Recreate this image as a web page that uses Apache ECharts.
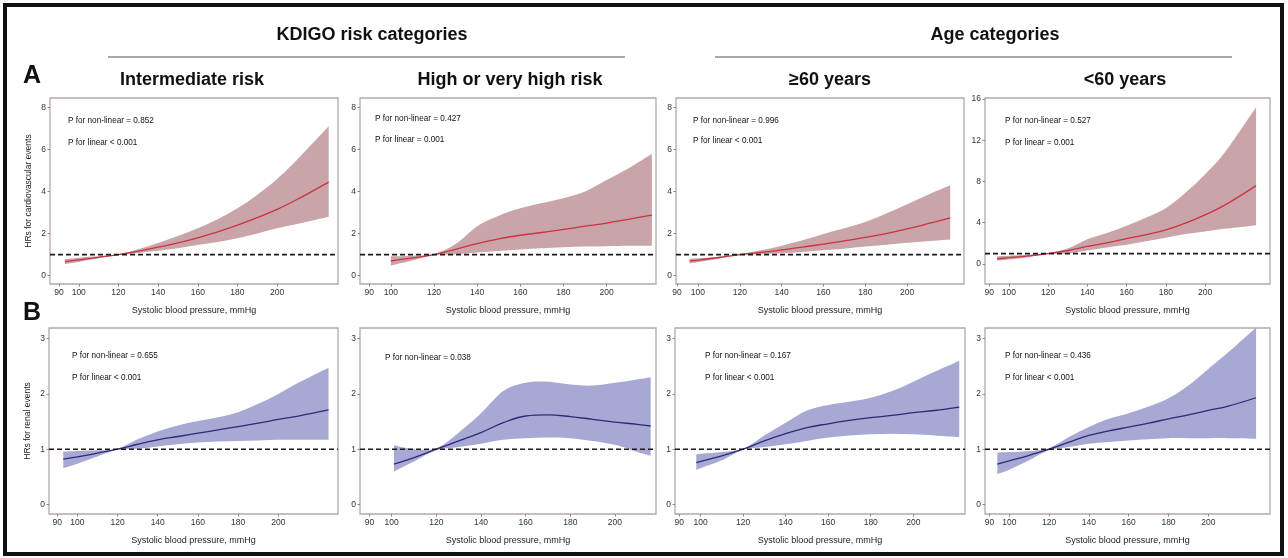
<!DOCTYPE html>
<html>
<head>
<meta charset="utf-8">
<script src="https://cdn.jsdelivr.net/npm/echarts@6.0.0/dist/echarts.min.js"></script>
<style>
html,body{margin:0;padding:0;background:#fff;}
#chart{width:1288px;height:558px;}
</style>
</head>
<body>
<div id="chart"></div>
<script>
// ---------------- DATA ----------------
const groupTitles = ['KDIGO risk categories', 'Age categories'];
const panelTitles = ['Intermediate risk', 'High or very high risk', '\u226560 years', '<60 years'];
const rowLetters = ['A', 'B'];
const yAxisTitles = ['HRs for cardiovascular events', 'HRs for renal events'];
const xAxisTitle = 'Systolic blood pressure, mmHg';
const sbpTicks = [90, 100, 120, 140, 160, 180, 200];
const hrTicksA = [0, 2, 4, 6, 8];
const hrTicksA4 = [0, 4, 8, 12, 16];
const hrTicksB = [0, 1, 2, 3];
const refHR = 1;

// Row A: cardiovascular events
const a1Sbp = [93, 100, 110, 120, 130, 140, 150, 160, 170, 180, 190, 200, 210, 226];
const a1Hr  = [0.66, 0.75, 0.87, 1.0, 1.16, 1.35, 1.56, 1.8, 2.08, 2.4, 2.76, 3.15, 3.62, 4.45];
const a1Lo  = [0.55, 0.65, 0.82, 0.98, 1.08, 1.18, 1.3, 1.45, 1.6, 1.78, 2.0, 2.25, 2.45, 2.8];
const a1Hi  = [0.78, 0.85, 0.93, 1.02, 1.25, 1.55, 1.88, 2.25, 2.68, 3.2, 3.85, 4.6, 5.5, 7.1];

const a2Sbp = [100, 110, 120, 130, 140, 150, 160, 170, 180, 190, 200, 210, 221];
const a2Hr  = [0.7, 0.84, 1.0, 1.25, 1.52, 1.75, 1.92, 2.05, 2.2, 2.35, 2.5, 2.68, 2.88];
const a2Lo  = [0.48, 0.72, 0.98, 1.02, 1.1, 1.17, 1.24, 1.3, 1.35, 1.38, 1.4, 1.42, 1.42];
const a2Hi  = [0.92, 0.95, 1.02, 1.5, 2.35, 2.85, 3.2, 3.45, 3.68, 4.0, 4.55, 5.1, 5.8];

const a3Sbp = [96, 100, 110, 120, 130, 140, 150, 160, 170, 180, 190, 200, 210, 220.6];
const a3Hr  = [0.7, 0.74, 0.86, 1.0, 1.1, 1.22, 1.35, 1.5, 1.65, 1.82, 2.0, 2.22, 2.47, 2.75];
const a3Lo  = [0.58, 0.64, 0.8, 0.98, 1.02, 1.06, 1.12, 1.2, 1.28, 1.38, 1.47, 1.56, 1.64, 1.72];
const a3Hi  = [0.8, 0.82, 0.9, 1.02, 1.2, 1.42, 1.68, 1.98, 2.25, 2.55, 2.95, 3.4, 3.85, 4.3];

const a4Sbp = [94, 100, 110, 120, 130, 140, 150, 160, 170, 180, 190, 200, 210, 226];
const a4Hr  = [0.5, 0.6, 0.78, 1.0, 1.3, 1.7, 2.05, 2.45, 2.85, 3.3, 3.95, 4.75, 5.7, 7.6];
const a4Lo  = [0.32, 0.42, 0.65, 0.95, 1.0, 1.3, 1.6, 1.85, 2.2, 2.55, 2.9, 3.15, 3.4, 3.75];
const a4Hi  = [0.75, 0.8, 0.9, 1.05, 1.5, 2.4, 3.0, 3.7, 4.5, 5.4, 6.9, 8.7, 10.8, 15.2];

// Row B: renal events
const b1Sbp = [93, 100, 110, 120, 130, 140, 150, 160, 170, 180, 190, 200, 210, 225];
const b1Hr  = [0.82, 0.86, 0.93, 1.0, 1.09, 1.17, 1.23, 1.29, 1.35, 1.41, 1.47, 1.54, 1.6, 1.71];
const b1Lo  = [0.66, 0.74, 0.87, 0.99, 1.01, 1.05, 1.09, 1.12, 1.14, 1.15, 1.16, 1.17, 1.17, 1.17];
const b1Hi  = [0.96, 0.97, 0.98, 1.01, 1.18, 1.32, 1.43, 1.51, 1.58, 1.67, 1.82, 2.0, 2.2, 2.47];

const b2Sbp = [101, 110, 120, 130, 140, 150, 160, 170, 180, 190, 200, 210, 216];
const b2Hr  = [0.73, 0.85, 1.0, 1.15, 1.3, 1.48, 1.6, 1.62, 1.59, 1.54, 1.49, 1.45, 1.42];
const b2Lo  = [0.6, 0.78, 0.98, 1.04, 1.1, 1.17, 1.2, 1.21, 1.2, 1.15, 1.08, 0.95, 0.88];
const b2Hi  = [1.07, 1.0, 1.02, 1.3, 1.65, 2.05, 2.2, 2.22, 2.17, 2.15, 2.2, 2.26, 2.3];

const b3Sbp = [98, 110, 120, 130, 140, 150, 160, 170, 180, 190, 200, 210, 221.6];
const b3Hr  = [0.76, 0.88, 1.0, 1.15, 1.28, 1.39, 1.46, 1.52, 1.57, 1.61, 1.66, 1.7, 1.76];
const b3Lo  = [0.63, 0.8, 0.99, 1.04, 1.09, 1.15, 1.21, 1.25, 1.27, 1.28, 1.27, 1.25, 1.22];
const b3Hi  = [0.91, 0.95, 1.01, 1.25, 1.48, 1.7, 1.8, 1.86, 1.93, 2.05, 2.22, 2.4, 2.6];

const b4Sbp = [94, 100, 110, 120, 130, 140, 150, 160, 170, 180, 190, 200, 210, 224];
const b4Hr  = [0.73, 0.79, 0.89, 1.0, 1.13, 1.25, 1.33, 1.4, 1.47, 1.55, 1.62, 1.7, 1.78, 1.93];
const b4Lo  = [0.55, 0.63, 0.8, 0.98, 1.04, 1.1, 1.13, 1.16, 1.18, 1.2, 1.2, 1.2, 1.2, 1.19];
const b4Hi  = [0.94, 0.95, 0.97, 1.02, 1.22, 1.4, 1.55, 1.65, 1.77, 1.92, 2.15, 2.45, 2.75, 3.2];

const pTexts = [
  ['P for non-linear = 0.852', 'P for linear < 0.001'],
  ['P for non-linear = 0.427', 'P for linear = 0.001'],
  ['P for non-linear = 0.996', 'P for linear < 0.001'],
  ['P for non-linear = 0.527', 'P for linear = 0.001'],
  ['P for non-linear = 0.655', 'P for linear < 0.001'],
  ['P for non-linear = 0.038'],
  ['P for non-linear = 0.167', 'P for linear < 0.001'],
  ['P for non-linear = 0.436', 'P for linear < 0.001']
];

// ---------------- LAYOUT / STYLE ----------------
const FONT = '"Liberation Sans", Arial, "DejaVu Sans", sans-serif';
const panels = [
  {sbp:a1Sbp, hr:a1Hr, lo:a1Lo, hi:a1Hi, row:0, left:50,  width:288, xr:[85.5,230.7], yr:[-0.4,8.45], yt:hrTicksA,  tx:18, ty:[25,47]},
  {sbp:a2Sbp, hr:a2Hr, lo:a2Lo, hi:a2Hi, row:0, left:360, width:296, xr:[85.7,222.9], yr:[-0.4,8.45], yt:hrTicksA,  tx:15, ty:[23,44]},
  {sbp:a3Sbp, hr:a3Hr, lo:a3Lo, hi:a3Hi, row:0, left:676, width:288, xr:[89.5,227.2], yr:[-0.4,8.45], yt:hrTicksA,  tx:17, ty:[25,45]},
  {sbp:a4Sbp, hr:a4Hr, lo:a4Lo, hi:a4Hi, row:0, left:985, width:285, xr:[87.8,233.1], yr:[-1.95,16.1], yt:hrTicksA4, tx:20, ty:[25,47]},
  {sbp:b1Sbp, hr:b1Hr, lo:b1Lo, hi:b1Hi, row:1, left:49,  width:289, xr:[85.9,229.7], yr:[-0.17,3.19], yt:hrTicksB, tx:23, ty:[30,52]},
  {sbp:b2Sbp, hr:b2Hr, lo:b2Lo, hi:b2Hi, row:1, left:360, width:296, xr:[85.8,218.4], yr:[-0.17,3.19], yt:hrTicksB, tx:25, ty:[32,54]},
  {sbp:b3Sbp, hr:b3Hr, lo:b3Lo, hi:b3Hi, row:1, left:675, width:290, xr:[88,224.3],   yr:[-0.17,3.19], yt:hrTicksB, tx:30, ty:[30,52]},
  {sbp:b4Sbp, hr:b4Hr, lo:b4Lo, hi:b4Hi, row:1, left:985, width:285, xr:[87.8,231],   yr:[-0.17,3.19], yt:hrTicksB, tx:20, ty:[30,52]}
];
const rowTop = [98, 328];
const gridH = 186;
const bandColor = ['#c9a5aa', '#a7a9d4'];
const lineColor = ['#cc3340', '#2a2a78'];
const frameColor = '#b3a9a7';

// Catmull-Rom through screen points -> cubic bezier path commands (rendering only)
function splineCmds(pts) {
  let d = '';
  for (let i = 0; i < pts.length - 1; i++) {
    const p0 = pts[i - 1] || pts[i], p1 = pts[i], p2 = pts[i + 1], p3 = pts[i + 2] || pts[i + 1];
    const c1x = p1[0] + (p2[0] - p0[0]) / 6, c1y = p1[1] + (p2[1] - p0[1]) / 6;
    const c2x = p2[0] - (p3[0] - p1[0]) / 6, c2y = p2[1] - (p3[1] - p1[1]) / 6;
    d += ' C' + c1x + ' ' + c1y + ' ' + c2x + ' ' + c2y + ' ' + p2[0] + ' ' + p2[1];
  }
  return d;
}

const grids = [], xAxes = [], yAxes = [], series = [], graphics = [];

panels.forEach((p, i) => {
  grids.push({left: p.left, top: rowTop[p.row], width: p.width, height: gridH,
    show: true, borderColor: frameColor, borderWidth: 1.3, backgroundColor: '#fff'});
  xAxes.push({type: 'value', gridIndex: i, min: p.xr[0], max: p.xr[1], position: 'bottom',
    name: xAxisTitle, nameLocation: 'middle', nameGap: 22,
    nameTextStyle: {fontSize: 9, color: '#222', fontFamily: FONT},
    axisLine: {show: false, onZero: false}, splitLine: {show: false},
    axisTick: {show: true, length: 2.5, lineStyle: {color: '#888'}, customValues: sbpTicks},
    axisLabel: {fontSize: 8.5, color: '#333', margin: 4, fontFamily: FONT, customValues: sbpTicks}
  });
  const firstCol = (i % 4 === 0);
  yAxes.push({type: 'value', gridIndex: i, min: p.yr[0], max: p.yr[1], position: 'left',
    name: firstCol ? yAxisTitles[p.row] : '', nameLocation: 'middle', nameGap: 17, nameRotate: 90,
    nameTextStyle: {fontSize: 8.5, color: '#222', fontFamily: FONT},
    axisLine: {show: false, onZero: false}, splitLine: {show: false},
    axisTick: {show: true, length: 2.5, lineStyle: {color: '#888'}, customValues: p.yt},
    axisLabel: {fontSize: 8.5, color: '#333', margin: 4, fontFamily: FONT, customValues: p.yt}
  });
  // confidence band: polygon between upper and lower bound, positioned via the axes
  const bandData = p.sbp.map((x, k) => [x, p.lo[k], p.hi[k]]);
  series.push({type: 'custom', xAxisIndex: i, yAxisIndex: i, data: bandData, silent: true, z: 2,
    encode: {x: 0, y: [1, 2]},
    renderItem: function (params, api) {
      if (params.dataIndex !== 0) return null;
      const up = bandData.map(d => api.coord([d[0], d[2]]));
      const dn = bandData.map(d => api.coord([d[0], d[1]])).reverse();
      const path = 'M' + up[0][0] + ' ' + up[0][1] + splineCmds(up) +
        ' L' + dn[0][0] + ' ' + dn[0][1] + splineCmds(dn) + ' Z';
      return {type: 'path', shape: {pathData: path}, style: {fill: bandColor[p.row], stroke: null}};
    }
  });
  const hrData = p.sbp.map((x, k) => [x, p.hr[k]]);
  series.push({type: 'line', xAxisIndex: i, yAxisIndex: i, data: hrData,
    smooth: 0.4, symbol: 'none', lineStyle: {color: lineColor[p.row], width: 1.3}, z: 3});
  series.push({type: 'line', xAxisIndex: i, yAxisIndex: i,
    data: [[p.xr[0], refHR], [p.xr[1], refHR]], symbol: 'none',
    lineStyle: {color: '#1a1a1a', width: 1.6, type: [5, 3]}, z: 4, silent: true});
  pTexts[i].forEach((t, k) => {
    graphics.push({type: 'text', left: p.left + p.tx, top: rowTop[p.row] + p.ty[k] - 6,
      style: {text: t, fill: '#111', font: '8.2px ' + FONT}, z: 10});
  });
});

// Headings
function htext(txt, cx, cy, size, weight) {
  return {type: 'text', x: cx, y: cy,
    style: {text: txt, fill: '#111', font: weight + ' ' + size + 'px ' + FONT,
      textAlign: 'center', textVerticalAlign: 'middle'}, z: 10};
}
graphics.push(htext(groupTitles[0], 372, 35, 18, 'bold'));
graphics.push(htext(groupTitles[1], 995, 35, 18, 'bold'));
graphics.push({type: 'line', shape: {x1: 108, y1: 57, x2: 625, y2: 57}, style: {stroke: '#a9a9a9', lineWidth: 2}});
graphics.push({type: 'line', shape: {x1: 715, y1: 57, x2: 1232, y2: 57}, style: {stroke: '#a9a9a9', lineWidth: 2}});
const titleX = [192, 510, 830, 1125];
panelTitles.forEach((t, i) => graphics.push(htext(t, titleX[i], 80, 18, 'bold')));
graphics.push(htext(rowLetters[0], 32, 76, 25, 'bold'));
graphics.push(htext(rowLetters[1], 32, 313, 25, 'bold'));
// outer frame
graphics.push({type: 'rect', shape: {x: 5, y: 5, width: 1277, height: 549},
  style: {fill: 'none', stroke: '#111', lineWidth: 4}, z: 20, silent: true});

const chart = echarts.init(document.getElementById('chart'), null, {renderer: 'canvas'});
chart.setOption({
  animation: false,
  backgroundColor: '#fff',
  grid: grids, xAxis: xAxes, yAxis: yAxes, series: series, graphic: graphics
});
</script>
</body>
</html>
